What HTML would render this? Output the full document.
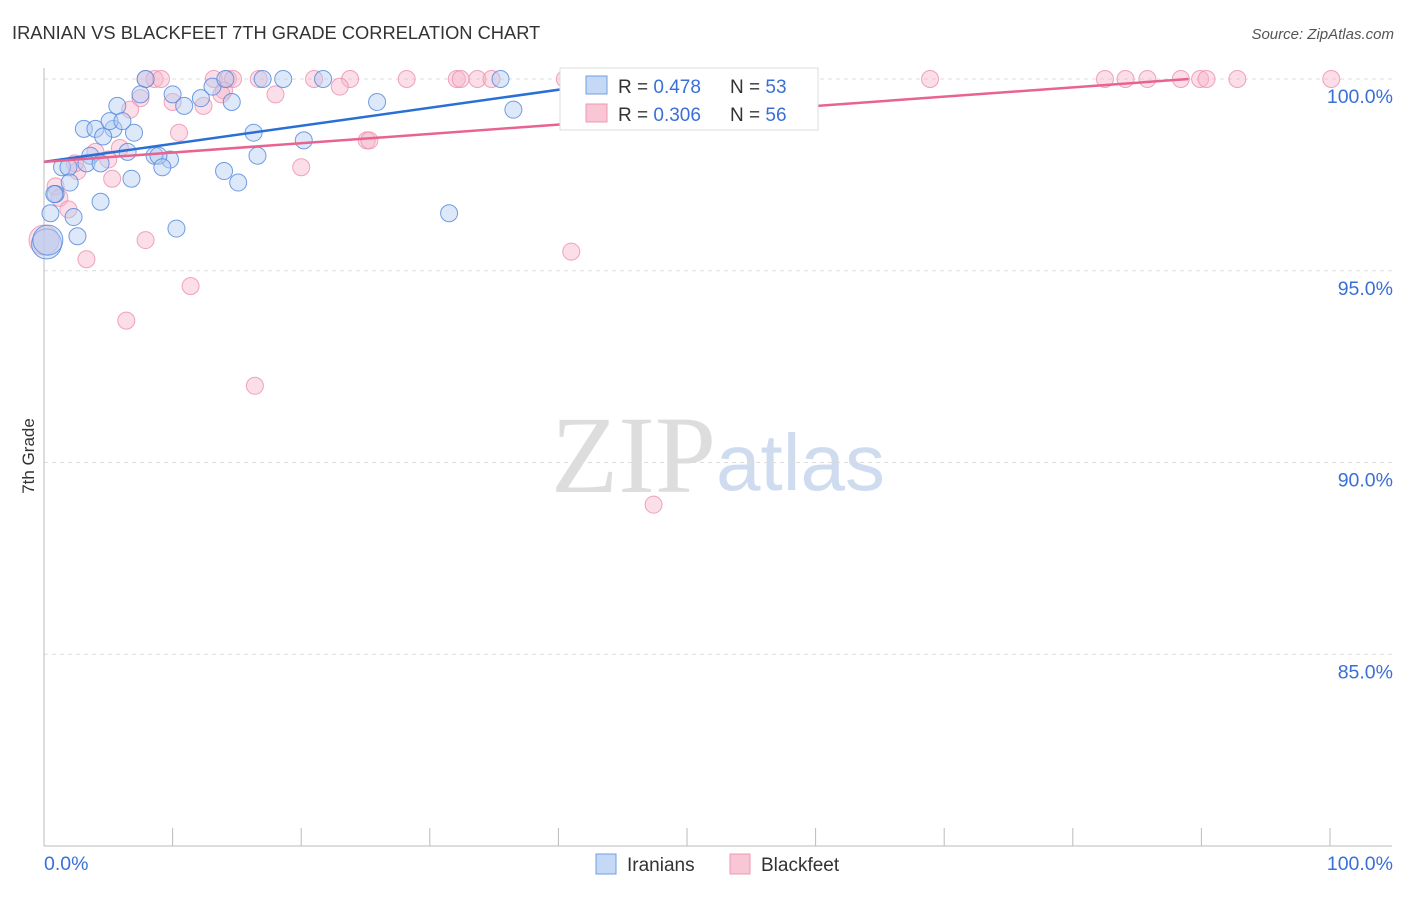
<!DOCTYPE html>
<html><head><meta charset="utf-8"><style>
body{margin:0;background:#fff;font-family:"Liberation Sans",sans-serif}
</style></head><body>
<svg width="1406" height="892" xmlns="http://www.w3.org/2000/svg">
<text x="12" y="39" font-size="18.3" fill="#333">IRANIAN VS BLACKFEET 7TH GRADE CORRELATION CHART</text>
<text x="1394" y="39" font-size="15" fill="#555" font-style="italic" text-anchor="end">Source: ZipAtlas.com</text>
<text x="34" y="456" font-size="17" fill="#333" transform="rotate(-90 34 456)" text-anchor="middle">7th Grade</text>
<text x="716" y="492" font-size="110" fill="#ddd" text-anchor="end" font-family="Liberation Serif">ZIP</text>
<text x="716" y="490" font-size="80" fill="#cfdcf0">atlas</text>
<g id="grid"></g><g id="axes"></g><g id="pts"></g><g id="lines"></g>
<g>
<rect x="560" y="68" width="258" height="62" fill="#fff" stroke="#ddd"/>
<rect x="586" y="76" width="21" height="18" fill="#c5d8f5" stroke="#6f9fe0"/>
<rect x="586" y="104" width="21" height="18" fill="#f9c6d5" stroke="#ec9ab4"/>
<text x="618" y="93" font-size="19" fill="#333">R = <tspan fill="#3a6fd8">0.478</tspan></text>
<text x="730" y="93" font-size="19" fill="#333">N = <tspan fill="#3a6fd8">53</tspan></text>
<text x="618" y="121" font-size="19" fill="#333">R = <tspan fill="#3a6fd8">0.306</tspan></text>
<text x="730" y="121" font-size="19" fill="#333">N = <tspan fill="#3a6fd8">56</tspan></text>
</g>
<g>
<rect x="596" y="854" width="20" height="20" fill="#c5d8f5" stroke="#6f9fe0"/>
<text x="627" y="871" font-size="19" fill="#333">Iranians</text>
<rect x="730" y="854" width="20" height="20" fill="#f9c6d5" stroke="#ec9ab4"/>
<text x="761" y="871" font-size="19" fill="#333">Blackfeet</text>
</g>
</svg>
<script>
const yTicks=[100,95,90,85];
const xTickLabels=["0.0%","100.0%"];
const blueX=[7.9,17,18.6,21.7,35.5,52.3,7.5,5.7,10,10.9,12.2,13.1,14.6,14.1,25.9,36.5,3.1,4,5.4,7,4.6,5.1,6.1,16.3,20.2,3.6,6.5,8.6,9.8,8.9,9.2,16.6,14,1.4,1.9,3.3,4.4,6.8,15.1,2,0.9,0.8,4.4,0.5,2.3,10.3,2.6,31.5,0.2,0.3];
const blueY=[100,100,100,100,100,100,99.6,99.3,99.6,99.3,99.5,99.8,99.4,100,99.4,99.2,98.7,98.7,98.7,98.6,98.5,98.9,98.9,98.6,98.4,98,98.1,98,97.9,98,97.7,98,97.6,97.7,97.7,97.8,97.8,97.4,97.3,97.3,97,97,96.8,96.5,96.4,96.1,95.9,96.5,95.7,95.8];
const pinkX=[7.9,8.6,9.1,13.2,14.3,14.7,16.7,21,23.8,28.2,32.1,32.4,33.7,34.8,40.5,68.9,82.5,84.1,85.8,88.4,89.9,90.4,92.8,100.1,23,18,7.5,10,12.4,14,6.7,10.5,5.9,4,5,2.6,2.4,5.3,20,25.1,25.3,0.9,1.2,1.9,7.9,0,3.3,11.4,6.4,16.4,41,47.4,13.8];
const pinkY=[100,100,100,100,100,100,100,100,100,100,100,100,100,100,100,100,100,100,100,100,100,100,100,100,99.8,99.6,99.5,99.4,99.3,99.7,99.2,98.6,98.2,98.1,97.9,97.6,97.8,97.4,97.7,98.4,98.4,97.2,96.9,96.6,95.8,95.8,95.3,94.6,93.7,92,95.5,88.9,99.6];
const blueTrend=[97.84,0.047];
const pinkTrend=[97.84,0.0243];
const X0=44,X1=1330,Yt=79;
const xs=v=>X0+(X1-X0)*v/100;
const ys=v=>Yt+(100-v)*38.35;
const NS="http://www.w3.org/2000/svg";
function mk(tag,attrs,parent){const e=document.createElementNS(NS,tag);for(const k in attrs)e.setAttribute(k,attrs[k]);document.getElementById(parent).appendChild(e);return e;}
for(const t of yTicks){
 const l=mk('line',{x1:44,x2:1392,y1:ys(t),y2:ys(t),stroke:'#ddd','stroke-dasharray':'4,4'},'grid');
 
 
 const tx=mk('text',{x:1393,y:ys(t)+24,'font-size':19.5,fill:'#3a6fd8','text-anchor':'end'},'grid');
 tx.textContent=t.toFixed(1)+'%';
 
 
}
let a=mk('line',{x1:44,x2:44,y1:68,y2:846,stroke:'#bbb'},'axes');


a=mk('line',{x1:44,x2:1392,y1:846,y2:846,stroke:'#bbb'},'axes');


for(let i=1;i<=10;i++){const t=mk('line',{x1:xs(i*10),x2:xs(i*10),y1:828,y2:846,stroke:'#bbb'},'axes');
 
 }
let l0=mk('text',{x:44,y:870,'font-size':19.5,fill:'#3a6fd8'},'axes');l0.textContent=xTickLabels[0];


let l1=mk('text',{x:1393,y:870,'font-size':19.5,fill:'#3a6fd8','text-anchor':'end'},'axes');l1.textContent=xTickLabels[1];


function pts(X,Y,fill,stroke,name){for(let i=0;i<X.length;i++){const big=X[i]<0.5;
 const c=mk('circle',{cx:xs(X[i]),cy:ys(Y[i]),r:big?15:8.5,fill:fill,'fill-opacity':0.45,stroke:stroke,'stroke-opacity':0.8,'stroke-width':1},'pts');
 
 }}
pts(pinkX,pinkY,'#f7b6c9','#ec8fad','blackfeet-point');
pts(blueX,blueY,'#b4cdf2','#4f86de','iranian-point');
function line(T,xEnd,color,name){const l=mk('line',{x1:xs(0),y1:ys(T[0]),x2:xs(xEnd),y2:ys(Math.min(100,T[0]+T[1]*xEnd)),stroke:color,'stroke-width':2.5},'lines');
 
 }
line(blueTrend,42.5,'#2a6fd6','iranian-trend-line');
line(pinkTrend,89,'#e8638e','blackfeet-trend-line');
</script>
</body></html>
